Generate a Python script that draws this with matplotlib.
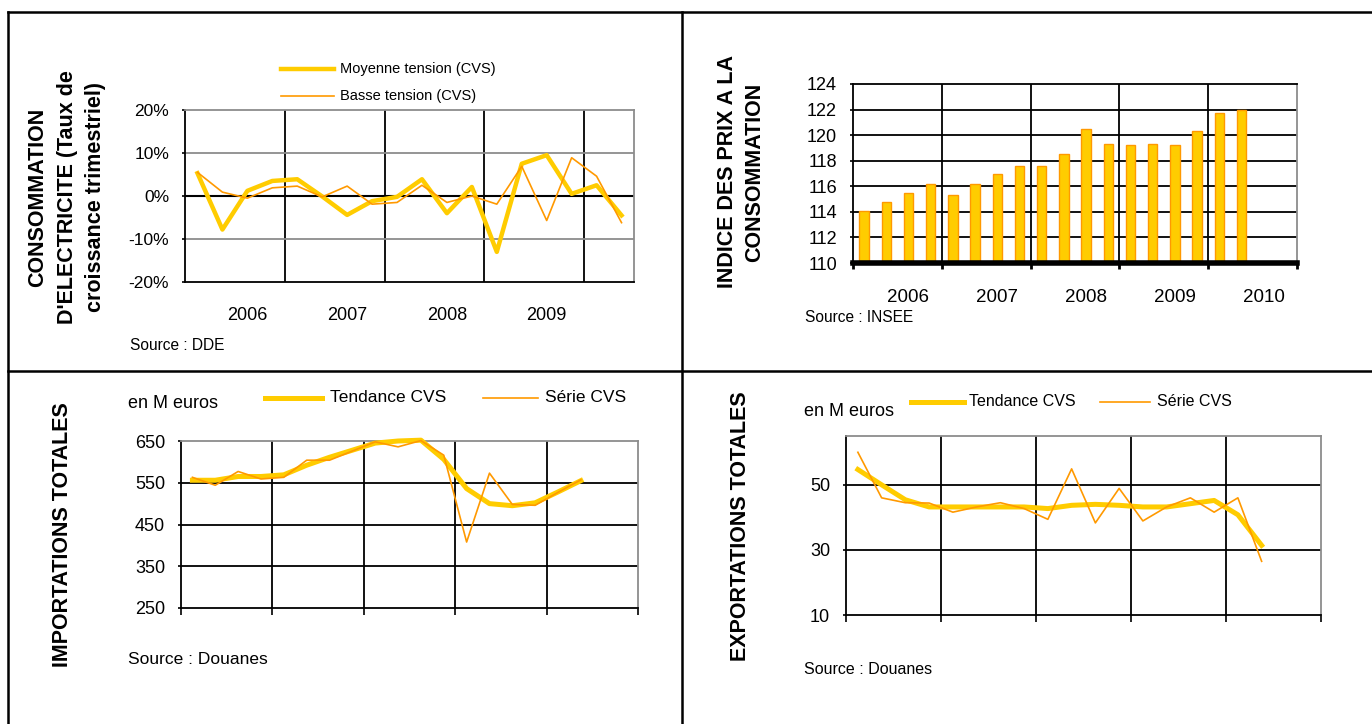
import numpy as np
import matplotlib.pyplot as plt
from matplotlib.lines import Line2D

plt.rcParams['font.family'] = ['Liberation Sans', 'DejaVu Sans']

W, H = 1372, 724

# --- consommation d'electricite, taux de croissance trimestriel (%)
moyenne = [5.3, -7.8, 1.2, 3.5, 3.9, -0.1, -4.4, -1.2, -0.2, 3.9,
           -4.0, 2.1, -13.0, 7.5, 9.5, 0.5, 2.5, -4.5]
basse = [5.5, 0.9, -0.5, 1.9, 2.3, -0.2, 2.3, -1.9, -1.5, 2.5,
         -1.5, 0.0, -1.9, 6.9, -5.7, 8.9, 4.6, -6.2]
annees_elec = ['2006', '2007', '2008', '2009']

# --- indice des prix a la consommation
ipc = [114.1, 114.8, 115.5, 116.2, 115.3, 116.2, 117.0, 117.6, 117.6,
       118.5, 120.5, 119.3, 119.2, 119.3, 119.2, 120.3, 121.7, 122.0]
annees_ipc = ['2006', '2007', '2008', '2009', '2010']

# --- importations totales (M euros)
imp_tendance = [556, 556, 565, 565, 569, 592, 611, 628, 645, 650,
                652, 606, 536, 500, 495, 502, 528, 555]
imp_serie = [563, 544, 577, 559, 563, 604, 604, 626, 648, 636,
             651, 616, 408, 573, 498, 496, 527, 557]

# --- exportations totales (M euros)
exp_tendance = [54.7, 50.0, 45.4, 43.2, 43.2, 43.2, 43.2, 43.2, 42.7,
                43.7, 44.0, 43.7, 43.2, 43.2, 44.2, 45.2, 40.8, 31.4]
exp_serie = [60.0, 46.0, 44.5, 44.4, 41.6, 43.2, 44.5, 42.7, 39.4,
             54.9, 38.3, 48.9, 38.9, 43.2, 46.0, 41.6, 46.0, 26.5]

JAUNE = '#FFCC00'
ORANGE = '#FF9900'
GRIS = '#8C8C8C'


def rect(l, t, r, b):
    return [l / W, 1 - b / H, (r - l) / W, (b - t) / H]


def fx(x):
    return x / W


def fy(y):
    return 1 - y / H


fig = plt.figure(figsize=(W / 100, H / 100), dpi=100)

# cadre du tableau
for xs, ys in [([8, W], [12, 12]), ([8, 8], [12, H]),
               ([682, 682], [12, H]), ([8, W], [371, 371])]:
    fig.add_artist(Line2D([fx(v) for v in xs], [fy(v) for v in ys],
                          color='black', lw=1.8))


def cadre(ax, top_col, size=12.5):
    ax.spines['left'].set_color('black')
    ax.spines['bottom'].set_color('black')
    ax.spines['top'].set_color(top_col)
    ax.spines['right'].set_color(GRIS)
    for s in ax.spines.values():
        s.set_linewidth(1.3)
    ax.tick_params(axis='y', length=2.5, width=1.2, color='black',
                   labelsize=size, pad=9)
    ax.set_axisbelow(True)


def titre(x, y, lignes, size=15.5, esp=1.38):
    fig.text(fx(x), fy(y), '\n'.join(lignes), rotation=90, ha='center',
             va='center', fontsize=size, fontweight='bold',
             multialignment='center', linespacing=esp)


# ---------- consommation d'electricite
ax1 = fig.add_axes(rect(185, 110, 634, 282))
n = len(moyenne)
x = np.arange(n)
ax1.set_xlim(-0.5, n - 0.5)
ax1.set_ylim(-20, 20)
for g in [3.5, 7.5, 11.5, 15.5]:
    ax1.axvline(g, color='black', lw=1.3, zorder=0)
for v in [-10, 10]:
    ax1.axhline(v, color=GRIS, lw=1.3, zorder=0)
ax1.axhline(0, color='black', lw=1.5, zorder=0)
ax1.plot(x, moyenne, color=JAUNE, lw=3.2, zorder=3, clip_on=False)
ax1.plot(x, basse, color=ORANGE, lw=1.2, zorder=4, clip_on=False)
ax1.set_yticks([-20, -10, 0, 10, 20])
ax1.set_yticklabels(['-20%', '-10%', '0%', '10%', '20%'])
ax1.set_xticks([])
cadre(ax1, GRIS)
for i, a in enumerate(annees_elec):
    ax1.text(2 + 4 * i, -27.8, a, ha='center', va='center', fontsize=13)
fig.add_artist(Line2D([fx(281), fx(334)], [fy(69), fy(69)], color=JAUNE, lw=3.2))
fig.add_artist(Line2D([fx(281), fx(334)], [fy(96), fy(96)], color=ORANGE, lw=1.2))
fig.text(fx(340), fy(69), 'Moyenne tension (CVS)', va='center', fontsize=10.5)
fig.text(fx(340), fy(96), 'Basse tension (CVS)', va='center', fontsize=10.5)
fig.text(fx(130), fy(345), 'Source : DDE', va='center', fontsize=11.2)
titre(67, 197, ['CONSOMMATION', "D'ELECTRICITE (Taux de",
                'croissance trimestriel)'], esp=1.5)

# ---------- indice des prix
ax2 = fig.add_axes(rect(853, 84, 1297, 263))
xb = np.arange(len(ipc))
ax2.set_xlim(-0.5, 19.5)
ax2.set_ylim(110, 124)
for g in [3.5, 7.5, 11.5, 15.5]:
    ax2.axvline(g, color='black', lw=1.3, zorder=0)
for v in range(112, 124, 2):
    ax2.axhline(v, color='black', lw=1.3, zorder=0)
ax2.bar(xb, [v - 110 for v in ipc], bottom=110, width=0.42, color=JAUNE,
        edgecolor=ORANGE, linewidth=1.0, zorder=2)
ax2.set_yticks(range(110, 125, 2))
ax2.set_xticks([-0.5, 3.5, 7.5, 11.5, 15.5, 19.5])
ax2.set_xticklabels([])
cadre(ax2, 'black', size=13)
ax2.spines['bottom'].set_linewidth(4)
ax2.spines['bottom'].set_zorder(5)
ax2.tick_params(axis='x', length=4, width=2, color='black', direction='out')
for i, a in enumerate(annees_ipc):
    ax2.text(2 + 4 * i, 107.3, a, ha='center', va='center', fontsize=13.5)
fig.text(fx(805), fy(317), 'Source : INSEE', va='center', fontsize=11.2)
titre(741, 172, ['INDICE DES PRIX A LA', 'CONSOMMATION'], esp=1.35)


def courbes(rc, tendance, serie, ylim, yticks, hgrid):
    ax = fig.add_axes(rc)
    xs = np.arange(len(tendance))
    ax.set_xlim(-0.5, 19.5)
    ax.set_ylim(*ylim)
    for g in [3.5, 7.5, 11.5, 15.5]:
        ax.axvline(g, color='black', lw=1.3, zorder=0)
    for v in hgrid:
        ax.axhline(v, color='black', lw=1.3, zorder=0)
    ax.plot(xs, tendance, color=JAUNE, lw=3.6, zorder=3, clip_on=False)
    ax.plot(xs, serie, color=ORANGE, lw=1.2, zorder=4, clip_on=False)
    ax.set_yticks(yticks)
    ax.set_xticks([-0.5, 3.5, 7.5, 11.5, 15.5, 19.5])
    ax.set_xticklabels([])
    ax.tick_params(axis='x', length=5, width=1.2, color='black')
    cadre(ax, GRIS, size=13)
    return ax


# ---------- importations
ax3 = courbes(rect(181, 441, 638, 608), imp_tendance, imp_serie,
              (250, 650), [250, 350, 450, 550, 650], [350, 450, 550])
fig.text(fx(128), fy(404), 'en M euros', va='center', fontsize=13)
fig.add_artist(Line2D([fx(265), fx(322)], [fy(398), fy(398)], color=JAUNE, lw=3.6))
fig.add_artist(Line2D([fx(483), fx(538)], [fy(398), fy(398)], color=ORANGE, lw=1.2))
fig.text(fx(330), fy(398), 'Tendance CVS', va='center', fontsize=12.5)
fig.text(fx(545), fy(398), 'Série CVS', va='center', fontsize=12.5)
fig.text(fx(128), fy(660), 'Source : Douanes', va='center', fontsize=12.5)
titre(63, 535, ['IMPORTATIONS TOTALES'])

# ---------- exportations
ax4 = courbes(rect(846, 436, 1321, 615), exp_tendance, exp_serie,
              (10, 65), [10, 30, 50], [30, 50])
fig.text(fx(804), fy(412), 'en M euros', va='center', fontsize=13)
fig.add_artist(Line2D([fx(911), fx(964)], [fy(402), fy(402)], color=JAUNE, lw=3.6))
fig.add_artist(Line2D([fx(1100), fx(1150)], [fy(402), fy(402)], color=ORANGE, lw=1.2))
fig.text(fx(969), fy(402), 'Tendance CVS', va='center', fontsize=11.5)
fig.text(fx(1157), fy(402), 'Série CVS', va='center', fontsize=11.5)
fig.text(fx(804), fy(669), 'Source : Douanes', va='center', fontsize=11.5)
titre(740, 526, ['EXPORTATIONS TOTALES'])

fig.savefig('out.png', dpi=100)
